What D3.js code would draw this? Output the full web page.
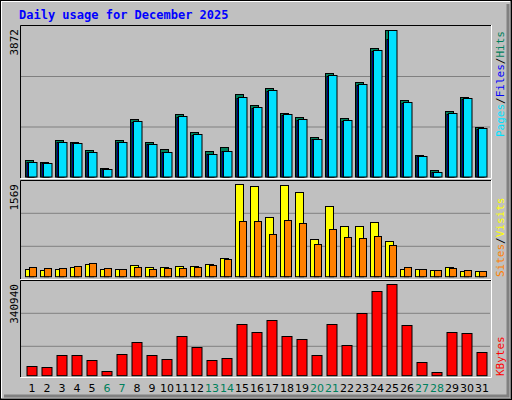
<!DOCTYPE html><html><head><meta charset="utf-8"><script src="https://cdn.jsdelivr.net/npm/d3@7"></script>
<style>body{margin:0;background:#fff}</style></head><body><svg id="c" width="512" height="400"></svg>
<script>
const days=d3.range(1,32);
const weekend=[6,7,13,14,20,21,27,28];
const hits=[455,403,981,928,718,245,981,1515,928,745,1664,1191,692,780,2190,1901,2348,1691,1586,1060,2724,1542,2488,3399,3872,2032,587,193,1743,2111,1323];
const files=[403,377,929,902,666,219,929,1480,876,666,1612,1139,613,692,2111,1848,2295,1664,1533,1007,2689,1507,2453,3346,3846,1980,561,140,1691,2085,1296];
const pages=[395,370,910,885,650,212,910,1450,860,650,1580,1115,600,680,2070,1810,2250,1630,1500,985,2640,1475,2410,3300,3610,1940,550,135,1655,2045,1270];
const visits=[125,108,125,158,209,125,125,192,158,158,175,175,209,311,1568,1534,1007,1551,1432,634,1194,855,855,923,600,125,125,108,158,91,91];
const sites=[158,142,142,175,226,142,125,158,125,142,142,158,192,294,940,940,719,957,906,549,804,668,651,685,532,158,125,108,142,108,91];
const kbytes=[34720,31000,75640,75640,57040,16120,79360,124000,75640,60760,146320,105400,57040,64480,190960,161200,205840,146320,135160,75640,190960,112840,231880,313720,340940,187240,49600,12400,161200,157480,86800];
const maxHits=3872,maxVisits=1569,maxKB=340940;

const svg=d3.select("#c");
// background & bevel
svg.append("rect").attr("x",0).attr("y",0).attr("width",512).attr("height",400).attr("fill","#c0c0c0");
svg.append("path").attr("d","M1,399V1H511").attr("stroke","#fff").attr("stroke-width",2).attr("fill","none");
svg.append("path").attr("d","M1,399H511V1").attr("stroke","#808080").attr("stroke-width",2).attr("fill","none");
svg.append("rect").attr("x",0.5).attr("y",0.5).attr("width",511).attr("height",399).attr("fill","none").attr("stroke","#000");
svg.append("path").attr("d","M4,396H508V4").attr("stroke","#808080").attr("stroke-width",3).attr("fill","none");

svg.append("text").attr("x",19).attr("y",19).attr("fill","#0000ff").attr("font-family","DejaVu Sans Mono").attr("font-weight","bold").attr("font-size",12).text("Daily usage for December 2025");

const x=d3.scaleLinear().domain([1,31]).range([25,475]);
const panels=[{t:25,b:178},{t:180,b:279},{t:280,b:377}];
panels.forEach(p=>{
  svg.append("path").attr("d",`M20.5,${p.b}V${p.t+0.5}H491`).attr("stroke","#000").attr("fill","none");
  svg.append("path").attr("d",`M20.5,${p.b+0.5}H491.5V${p.t}`).attr("stroke","#fff").attr("fill","none");
});
function grid(ys){ys.forEach(y=>svg.append("line").attr("x1",21).attr("x2",490).attr("y1",y).attr("y2",y).attr("stroke","#808080"));}
const y1=d3.scaleLinear().domain([0,maxHits]).range([177,29.5]);
const y2=d3.scaleLinear().domain([0,maxVisits]).range([276.7,184.3]);
const y3=d3.scaleLinear().domain([0,maxKB]).range([375.7,284]);
grid([76.5,127,213.3,246.3,313.3,346.3]);

function bars(data,sc,dx,w,color){
  svg.append("g").selectAll("rect").data(data).join("rect")
   .attr("x",(d,i)=>x(days[i])+dx+0.5).attr("y",d=>Math.round(sc(d))+0.5)
   .attr("width",w).attr("height",d=>Math.max(0,sc.range()[0]-Math.round(sc(d))-0.5))
   .attr("fill",color).attr("stroke","#000").attr("stroke-width",1);
}
bars(hits,y1,0,8,"#00805c");
bars(pages,y1,1.5,8,"#0000ff");
bars(files,y1,3,8.5,"#00e0ff");
bars(visits,y2,0,8,"#ffff00");
bars(sites,y2,4,7,"#ff8000");
bars(kbytes,y3,1.5,10,"#ff0000");

svg.append("g").selectAll("text").data(days).join("text")
 .attr("x",d=>x(d)+7).attr("y",392).attr("text-anchor","middle")
 .attr("font-family","DejaVu Sans").attr("font-size",11)
 .attr("fill",d=>weekend.includes(d)?"#00805c":"#000").text(d=>d);

function vlabel(xp,yp,anchor,parts){
  const t=svg.append("text").attr("transform",`translate(${xp},${yp}) rotate(-90)`).attr("text-anchor",anchor)
   .attr("font-family","DejaVu Sans Mono").attr("font-size",11);
  parts.forEach(([s,c])=>t.append("tspan").attr("fill",c).text(s));
}
vlabel(18,29,"end",[[String(maxHits),"#000"]]);
vlabel(18,184,"end",[[String(maxVisits),"#000"]]);
vlabel(18,284,"end",[[String(maxKB),"#000"]]);
vlabel(504,137,"start",[["Pages","#00e0ff"],["/","#000"],["Files","#0000ff"],["/","#000"],["Hits","#00805c"]]);
vlabel(504,277,"start",[["Sites","#ff8000"],["/","#000"],["Visits","#ffff00"]]);
vlabel(504,376,"start",[["KBytes","#ff0000"]]);
</script></body></html>
